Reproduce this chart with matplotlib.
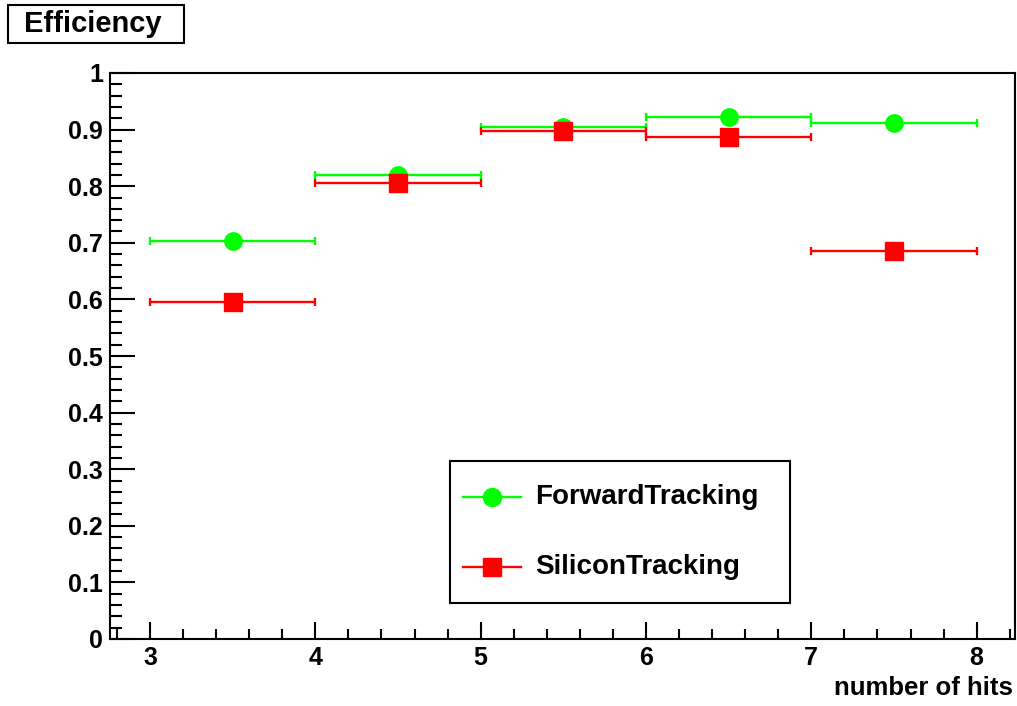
import matplotlib
matplotlib.use("Agg")
import matplotlib.pyplot as plt
from matplotlib.ticker import MultipleLocator
from matplotlib.lines import Line2D
from matplotlib.patches import Rectangle

plt.rcParams['font.family'] = ['Liberation Sans', 'DejaVu Sans']

# Efficiency per number-of-hits bin
bin_centers = [3.5, 4.5, 5.5, 6.5, 7.5]
bin_half_width = [0.5, 0.5, 0.5, 0.5, 0.5]
forward_eff = [0.703, 0.820, 0.905, 0.922, 0.912]
silicon_eff = [0.595, 0.806, 0.898, 0.887, 0.686]
y_tick_values = [0, 0.1, 0.2, 0.3, 0.4, 0.5, 0.6, 0.7, 0.8, 0.9, 1.0]
y_tick_labels = ['0', '0.1', '0.2', '0.3', '0.4', '0.5', '0.6', '0.7',
                 '0.8', '0.9', '1']

W, H = 1017, 706
GREEN = '#00ff00'
RED = '#ff0000'

fig = plt.figure(figsize=(W / 100, H / 100), dpi=100)
ax = fig.add_axes([110 / W, 67 / H, 905 / W, 566 / H])

ax.errorbar(bin_centers, forward_eff, xerr=bin_half_width, fmt='o',
            color=GREEN, ms=12.5, lw=1.7, capsize=3, capthick=1.7,
            zorder=3)
ax.errorbar(bin_centers, silicon_eff, xerr=bin_half_width, fmt='s',
            color=RED, ms=12.5, lw=1.7, capsize=3, capthick=1.7,
            zorder=4)

ax.set_xlim(2.758, 8.232)
ax.set_ylim(0, 1)

ax.xaxis.set_major_locator(MultipleLocator(1))
ax.xaxis.set_minor_locator(MultipleLocator(0.2))
ax.set_yticks(y_tick_values)
ax.set_yticklabels(y_tick_labels)
ax.yaxis.set_minor_locator(MultipleLocator(0.02))

ax.tick_params(axis='both', which='both', direction='in', width=1.5,
               labelsize=18, top=False, right=False)
ax.tick_params(axis='x', which='major', length=12.5, pad=5)
ax.tick_params(axis='x', which='minor', length=7)
ax.tick_params(axis='y', which='major', length=18, pad=5)
ax.tick_params(axis='y', which='minor', length=8.6)
for lbl in ax.get_xticklabels() + ax.get_yticklabels():
    lbl.set_fontweight('bold')

for side in ax.spines.values():
    side.set_linewidth(1.5)

# axis title at the lower right
fig.text(1013 / W, 1 - 688 / H, 'number of hits', ha='right', va='center',
         fontsize=18.5, fontweight='bold')

# plot title box
fig.patches.append(Rectangle((8 / W, 1 - 43 / H), 176 / W, 38 / H,
                             transform=fig.transFigure, fc='white',
                             ec='black', lw=1.5))
fig.text(93 / W, 1 - 24 / H, 'Efficiency', ha='center', va='center',
         fontsize=21, fontweight='bold')

# legend box drawn in figure pixels
fig.patches.append(Rectangle((450 / W, 1 - 603 / H), 340 / W, 142 / H,
                             transform=fig.transFigure, fc='white',
                             ec='black', lw=1.5, zorder=5))
entries = [('ForwardTracking', GREEN, 'o', 497),
           ('SiliconTracking', RED, 's', 567)]
for label, col, mk, ypx in entries:
    yf = 1 - ypx / H
    fig.add_artist(Line2D([463 / W, 521 / W], [yf, yf], color=col, lw=1.7,
                          transform=fig.transFigure, zorder=6))
    fig.add_artist(Line2D([492 / W], [yf], marker=mk, ms=13, color=col,
                          transform=fig.transFigure, zorder=7))
    fig.text(535 / W, yf, label, ha='left', va='center', fontsize=20,
             fontweight='bold', zorder=8)

fig.savefig('out.png', dpi=100)
